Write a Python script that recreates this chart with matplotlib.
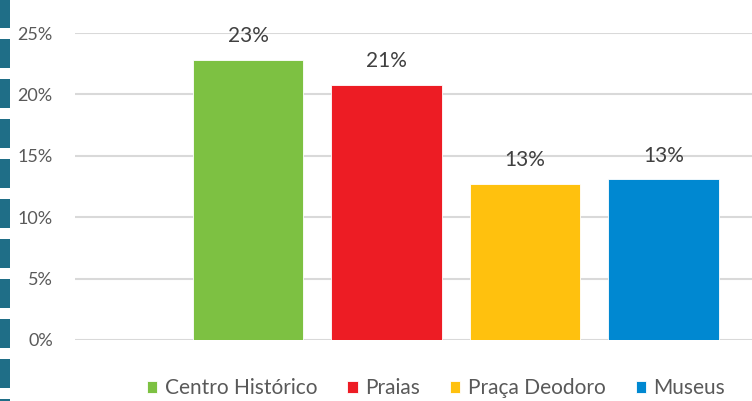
"""Bar chart of visitor preferences, with a dashed side strip."""

import matplotlib.pyplot as plt
from matplotlib.lines import Line2D
from matplotlib.ticker import FuncFormatter

categories = ["Centro Histórico", "Praias", "Praça Deodoro", "Museus"]
shares = [0.228, 0.208, 0.127, 0.131]
value_labels = ["23%", "21%", "13%", "13%"]
colors = ["#7DC142", "#ED1C24", "#FFC10E", "#0088D1"]
yticks = [0, 0.05, 0.10, 0.15, 0.20, 0.25]

plt.rcParams["font.family"] = ["Lato", "DejaVu Sans"]

fig = plt.figure(figsize=(7.52, 4.01), dpi=100)
ax = fig.add_axes([75 / 752, 1 - 340 / 401, 1 - 75 / 752, (340 - 33) / 401])

positions = list(range(len(categories)))
bars = ax.bar(positions, shares, width=0.795, color=colors, zorder=3,
              edgecolor="white", linewidth=0.6)

for bar, text in zip(bars, value_labels):
    ax.annotate(text, (bar.get_x() + bar.get_width() / 2, bar.get_height()),
                xytext=(0, 17), textcoords="offset points", ha="center",
                va="center", fontsize=15, color="#404040", clip_on=False)

ax.set_xlim(-1.249, 3.639)
ax.set_ylim(0, 0.25)
ax.set_yticks(yticks)
ax.yaxis.set_major_formatter(FuncFormatter(lambda v, _: f"{v * 100:.0f}%"))
ax.tick_params(axis="y", length=0, pad=16, labelsize=13, labelcolor="#595959")
ax.tick_params(axis="x", bottom=False, labelbottom=False)
ax.grid(axis="y", color="#D9D9D9", linewidth=1.5, zorder=0)
for side in ax.spines.values():
    side.set_visible(False)

fig.legend(bars, categories, loc="center", bbox_to_anchor=(436 / 752, 1 - 388 / 401),
           ncol=4, frameon=False, fontsize=15, labelcolor="#595959",
           handlelength=0.5, handleheight=0.5, handletextpad=0.35,
           columnspacing=1.45, borderpad=0)

# dashed teal strip on the left edge
strip = Line2D([5 / 752, 5 / 752], [1 - 13.3 / 401 + 40 / 401, -0.05],
               transform=fig.transFigure, color="#1F6E87", linewidth=7.2,
               solid_capstyle="butt", dash_capstyle="butt")
strip.set_dashes([29 * 0.72 / 7.2, 11 * 0.72 / 7.2])
fig.add_artist(strip)

fig.savefig("out.png", dpi=100)
plt.close(fig)
